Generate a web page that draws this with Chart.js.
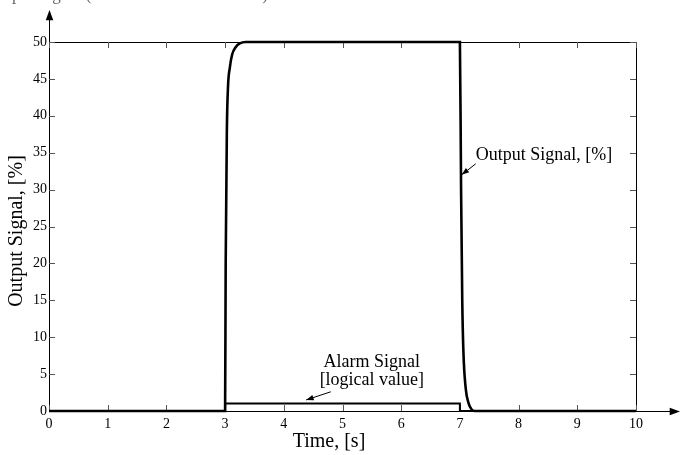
<!DOCTYPE html>
<html lang="en">

<head>
    <meta charset="UTF-8">
    <title>Output Signal</title>
    <script src="https://cdn.jsdelivr.net/npm/chart.js@4.4.3/dist/chart.umd.min.js"></script>
    <style>
        html, body { margin: 0; padding: 0; background: #fff; }
        #wrap { width: 680px; height: 455px; position: relative; }
    </style>
</head>

<body>
    <div id="wrap"><canvas id="mychart"></canvas></div>

    <script>
        // values
        const outputTime = [0, 3, 3.01, 3.03, 3.05, 3.08, 3.12, 3.18, 3.25, 3.35, 7, 7.02, 7.04, 7.06, 7.1, 7.15, 7.2, 7.25, 10];
        const outputValue = [0, 0, 20, 38, 44, 46.5, 48.3, 49.3, 49.8, 50, 50, 30, 15, 8, 3, 1, 0.2, 0, 0];
        const alarmTime = [0, 3, 3, 7, 7, 10];
        const alarmValue = [0, 0, 1, 1, 0, 0];
        const xTicks = [0, 1, 2, 3, 4, 5, 6, 7, 8, 9, 10];
        const yTicks = [0, 5, 10, 15, 20, 25, 30, 35, 40, 45, 50];

        const serif = '"Liberation Serif", "Times New Roman", serif';

        function toPoints(xs, ys) {
            return xs.map((x, i) => ({ x: x, y: ys[i] }));
        }

        function arrowHead(ctx, x0, y0, x1, y1, size) {
            const a = Math.atan2(y1 - y0, x1 - x0);
            ctx.beginPath();
            ctx.moveTo(x1, y1);
            ctx.lineTo(x1 - size * Math.cos(a - 0.35), y1 - size * Math.sin(a - 0.35));
            ctx.lineTo(x1 - size * Math.cos(a + 0.35), y1 - size * Math.sin(a + 0.35));
            ctx.closePath();
            ctx.fill();
        }

        // frame, inward ticks, axis arrows, titles and the two notes
        const decorations = {
            id: 'decorations',
            beforeDatasetsDraw(chart) {
                const ctx = chart.ctx;
                const a = chart.chartArea;
                const sx = chart.scales.x, sy = chart.scales.y;
                ctx.save();
                ctx.strokeStyle = '#000';
                ctx.fillStyle = '#000';
                ctx.lineWidth = 1;
                ctx.strokeRect(a.left + 0.5, a.top + 0.5, a.right - a.left, a.bottom - a.top);

                ctx.strokeStyle = '#555';
                xTicks.forEach(t => {
                    const px = Math.round(sx.getPixelForValue(t)) + 0.5;
                    ctx.beginPath();
                    ctx.moveTo(px, a.bottom); ctx.lineTo(px, a.bottom - 6);
                    ctx.moveTo(px, a.top); ctx.lineTo(px, a.top + 6);
                    ctx.stroke();
                });
                yTicks.forEach(t => {
                    const py = Math.round(sy.getPixelForValue(t)) + 0.5;
                    ctx.beginPath();
                    ctx.moveTo(a.left, py); ctx.lineTo(a.left + 6, py);
                    ctx.moveTo(a.right, py); ctx.lineTo(a.right - 6, py);
                    ctx.stroke();
                });

                // axis arrows past the frame
                ctx.strokeStyle = '#000';
                ctx.beginPath();
                ctx.moveTo(a.left + 0.5, a.top); ctx.lineTo(a.left + 0.5, 14);
                ctx.moveTo(a.right, a.bottom + 0.5); ctx.lineTo(676, a.bottom + 0.5);
                ctx.stroke();
                arrowHead(ctx, a.left + 0.5, 30, a.left + 0.5, 10, 11);
                arrowHead(ctx, 660, a.bottom + 0.5, 680, a.bottom + 0.5, 11);

                // clipped caption line above the chart
                ctx.font = '17px ' + serif;
                ctx.fillStyle = '#666';
                ctx.textBaseline = 'alphabetic';
                ctx.fillText('put Signal (set as the reference value).', 12, 0);

                // axis titles
                ctx.fillStyle = '#000';
                ctx.font = '20px ' + serif;
                ctx.textAlign = 'center';
                ctx.textBaseline = 'middle';
                ctx.fillText('Time, [s]', 329, 442);
                ctx.translate(17, 231);
                ctx.rotate(-Math.PI / 2);
                ctx.fillText('Output Signal, [%]', 0, 0);
                ctx.restore();
            },
            afterDatasetsDraw(chart) {
                const ctx = chart.ctx;
                const sx = chart.scales.x, sy = chart.scales.y;
                ctx.save();
                ctx.fillStyle = '#000';
                ctx.strokeStyle = '#000';
                ctx.lineWidth = 1;
                ctx.font = '18px ' + serif;

                // Output Signal note
                ctx.textAlign = 'left';
                ctx.textBaseline = 'middle';
                ctx.fillText('Output Signal, [%]', sx.getPixelForValue(7.27), sy.getPixelForValue(34.6));
                let x0 = sx.getPixelForValue(7.27), y0 = sy.getPixelForValue(33.5);
                let x1 = sx.getPixelForValue(7.03), y1 = sy.getPixelForValue(32.0);
                ctx.beginPath(); ctx.moveTo(x0, y0); ctx.lineTo(x1, y1); ctx.stroke();
                arrowHead(ctx, x0, y0, x1, y1, 8);

                // Alarm Signal note
                ctx.textAlign = 'center';
                ctx.fillText('Alarm Signal', sx.getPixelForValue(5.5), sy.getPixelForValue(6.6));
                ctx.fillText('[logical value]', sx.getPixelForValue(5.5), sy.getPixelForValue(4.1));
                x0 = sx.getPixelForValue(4.8); y0 = sy.getPixelForValue(2.6);
                x1 = sx.getPixelForValue(4.38); y1 = sy.getPixelForValue(1.5);
                ctx.beginPath(); ctx.moveTo(x0, y0); ctx.lineTo(x1, y1); ctx.stroke();
                arrowHead(ctx, x0, y0, x1, y1, 8);
                ctx.restore();
            }
        };

        var data = {
            datasets: [
                {
                    label: 'Alarm Signal',
                    data: toPoints(alarmTime, alarmValue),
                    borderColor: '#000',
                    borderWidth: 2,
                    pointRadius: 0,
                    tension: 0,
                    clip: 4
                },
                {
                    label: 'Output Signal',
                    data: toPoints(outputTime, outputValue),
                    borderColor: '#000',
                    borderWidth: 2.6,
                    pointRadius: 0,
                    cubicInterpolationMode: 'monotone',
                    clip: 4
                }
            ]
        };

        var config = {
            type: 'line',
            data: data,
            options: {
                responsive: true,
                maintainAspectRatio: false,
                animation: false,
                layout: { padding: { top: 42, right: 44, left: 0, bottom: 0 } },
                scales: {
                    x: {
                        type: 'linear',
                        min: 0,
                        max: 10,
                        afterFit: s => { s.height = 44; },
                        afterBuildTicks: s => { s.ticks = xTicks.map(v => ({ value: v })); },
                        grid: { display: false, drawTicks: false, tickLength: 0 },
                        border: { display: false },
                        ticks: { color: '#000', font: { family: serif, size: 14 }, padding: 5, maxRotation: 0 },
                        title: { display: false }
                    },
                    y: {
                        min: 0,
                        max: 50,
                        afterFit: s => { s.width = 49; },
                        afterBuildTicks: s => { s.ticks = yTicks.map(v => ({ value: v })); },
                        grid: { display: false, drawTicks: false, tickLength: 0 },
                        border: { display: false },
                        ticks: { color: '#000', font: { family: serif, size: 14 }, padding: 2 },
                        title: { display: false }
                    }
                },
                plugins: {
                    legend: { display: false },
                    tooltip: { enabled: false }
                }
            },
            plugins: [decorations]
        };

        var mychart = new Chart(document.getElementById('mychart'), config);
    </script>
</body>

</html>
